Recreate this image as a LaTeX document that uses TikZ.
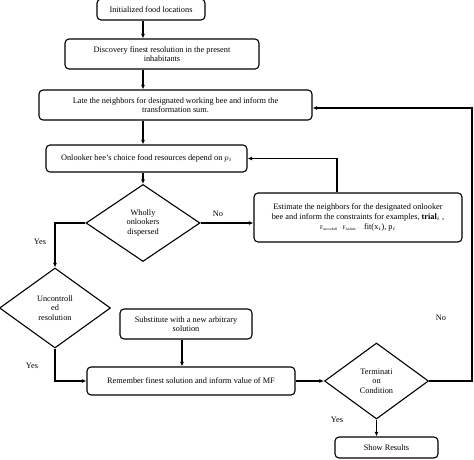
\documentclass[tikz,border=0pt]{standalone}
\usepackage{fontspec}
\setmainfont{Liberation Serif}
\usetikzlibrary{shapes.geometric,arrows.meta,calc}

\tikzset{
  stepbox/.style={draw, line width=1.1pt, rounded corners=4pt, align=center,
    inner sep=1pt, font=\fontsize{8.3}{9.6}\selectfont},
  choice/.style={draw, diamond, line width=1.1pt, align=center, inner sep=0pt,
    font=\fontsize{8.3}{9.6}\selectfont},
  flow/.style={line width=1.1pt, -{Latex[length=4.5pt,width=4pt]}},
  tag/.style={font=\fontsize{8.3}{9.6}\selectfont}
}

\begin{document}
\begin{tikzpicture}[x=1pt,y=-1pt]

% Fix the page size
\useasboundingbox (0,0) rectangle (474,460);

% Column of the main arrows
\coordinate (col) at (143,0);
\coordinate (up) at (337,0);
\coordinate (sub) at (182,0);
\coordinate (ret) at (472,108);

% Process boxes
\node[stepbox, minimum width=108pt, minimum height=21pt] (init) at (151,9.5) {Initialized food locations};
\node[stepbox, minimum width=194pt, minimum height=30pt] (best) at (162,54) {Discovery finest resolution in the present\\inhabitants};
\node[stepbox, minimum width=273pt, minimum height=30pt] (late) at (175.5,105) {Late the neighbors for designated working bee and inform the\\transformation sum.};
\node[stepbox, minimum width=201pt, minimum height=27pt] (onl) at (146.5,158.5) {Onlooker bee's choice food resources depend on $p_i$};
\node[stepbox, minimum width=208pt, minimum height=49pt] (est) at (358,217.5) {Estimate the neighbors for the designated onlooker\\bee and inform the constraints for examples, \textbf{trial}$_i$ ,\\[1pt]{\fontsize{5.5}{6}\selectfont F\textsubscript{succefull} $\cdot$ F\textsubscript{failure} $\cdot$}\ \ fit(x$_i$), p$_i$};
\node[stepbox, minimum width=132pt, minimum height=30pt] (subs) at (186,324) {Substitute with a new arbitrary\\solution};
\node[stepbox, minimum width=208pt, minimum height=28pt] (mem) at (191,381) {Remember finest solution and inform value of MF};
\node[stepbox, minimum width=103pt, minimum height=21pt] (show) at (386.5,447.5) {Show Results};

% Decisions
\node[choice, minimum width=114pt, minimum height=77pt] (all) at (143,223) {Wholly\\onlookers\\dispersed};
\node[choice, minimum width=111pt, minimum height=80pt] (unc) at (55,308) {Uncontroll\\ed\\resolution};
\node[choice, minimum width=104pt, minimum height=76pt] (term) at (376.5,381) {Terminati\\on\\Condition};

% Main column arrows
\draw[flow] (init.south -| col) -- (best.north -| col);
\draw[flow] (best.south -| col) -- (late.north -| col);
\draw[flow] (late.south -| col) -- (onl.north -| col);
\draw[flow] (onl.south -| col) -- (all.north);

% Branches
\draw[flow] (all.east) -- (all.east -| est.west);
\draw[flow] (est.north -| up) |- (onl.east);
\draw[flow] (all.west) -| (unc.north);
\draw[flow] (unc.south) |- (mem.west);
\draw[flow] (subs.south -| sub) -- (mem.north -| sub);
\draw[flow] (mem.east) -- (term.west);
\draw[flow] (term.east) -| (ret) -- (ret -| late.east);
\draw[flow] (term.south) -- (term.south |- show.north);

% Branch labels
\node[tag] at (218,214) {No};
\node[tag] at (40,242) {Yes};
\node[tag] at (32,366) {Yes};
\node[tag] at (441,318) {No};
\node[tag] at (337,420) {Yes};

\end{tikzpicture}
\end{document}
